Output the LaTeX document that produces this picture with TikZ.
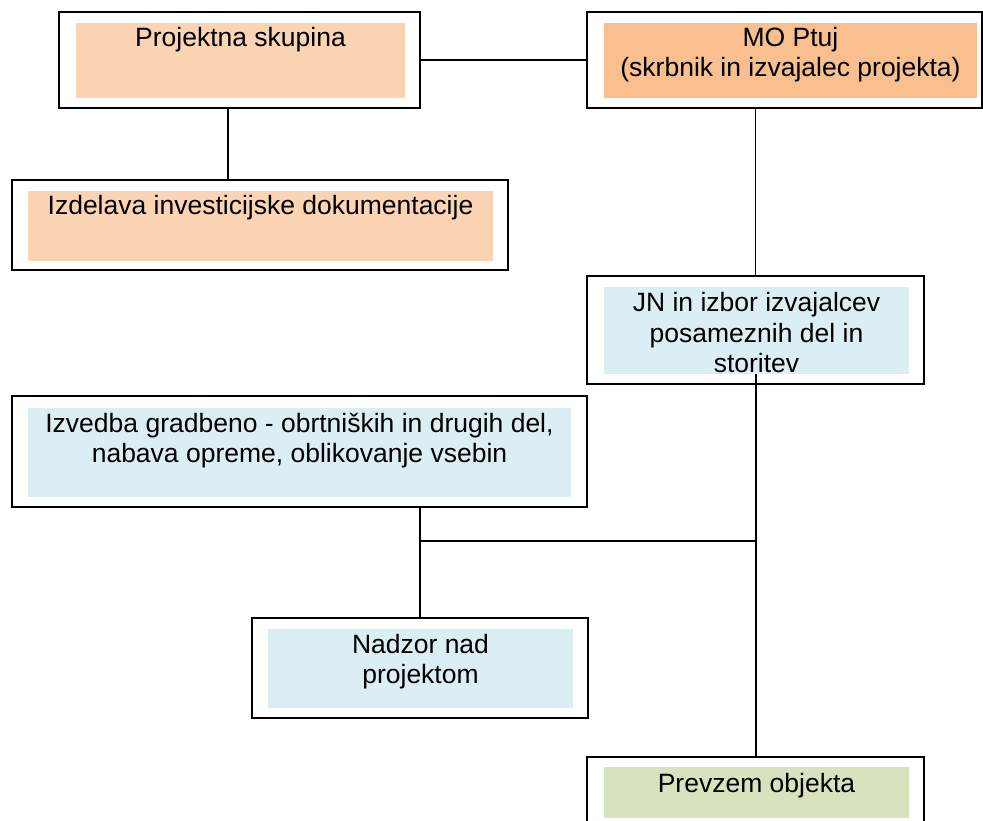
\documentclass[tikz,border=0pt]{standalone}
\usepackage{fontspec}
\setmainfont{Liberation Sans}
\definecolor{peach}{HTML}{FBD4B4}
\definecolor{orangefill}{HTML}{FABF8F}
\definecolor{bluefill}{HTML}{DAEEF3}
\definecolor{greenfill}{HTML}{D6E3BC}
\tikzset{
  outerbox/.style={draw=black, line width=1.8pt, fill=white, inner sep=0pt, outer sep=0pt},
  fillbox/.style={draw=none, inner sep=0pt, outer sep=0pt},
  txt/.style={inner sep=0pt, outer sep=0pt, anchor=base, text=black,
    font=\fontsize{26.5pt}{30pt}\selectfont},
  conn/.style={draw=black, line width=1.4pt}
}
\begin{document}
\begin{tikzpicture}[x=1pt, y=-1pt]
\clip (0,0) rectangle (983,821);
\fill[white] (0,0) rectangle (983,821);
% outer boxes
\node[outerbox, minimum width=361pt, minimum height=96pt] (b1) at (239.5,60) {};
\node[outerbox, minimum width=395pt, minimum height=96pt] (b2) at (784.5,60) {};
\node[outerbox, minimum width=496pt, minimum height=90pt] (b3) at (260,225) {};
\node[outerbox, minimum width=337pt, minimum height=108pt] (b4) at (755.5,330) {};
\node[outerbox, minimum width=575pt, minimum height=111pt] (b5) at (299.5,451.5) {};
\node[outerbox, minimum width=336pt, minimum height=100pt] (b6) at (420,668) {};
\node[outerbox, minimum width=337pt, minimum height=73pt] (b7) at (755.5,793.5) {};
% inner fills
\node[fillbox, fill=peach, minimum width=329pt, minimum height=75pt] (f1) at (240.5,60.5) {};
\node[fillbox, fill=orangefill, minimum width=373pt, minimum height=75pt] (f2) at (790.5,60.5) {};
\node[fillbox, fill=peach, minimum width=465pt, minimum height=70pt] (f3) at (260.5,226) {};
\node[fillbox, fill=bluefill, minimum width=305pt, minimum height=87pt] (f4) at (756.5,330.5) {};
\node[fillbox, fill=bluefill, minimum width=543pt, minimum height=89pt] (f5) at (299.5,452.5) {};
\node[fillbox, fill=bluefill, minimum width=305pt, minimum height=79pt] (f6) at (420.5,668.5) {};
\node[fillbox, fill=greenfill, minimum width=305pt, minimum height=51pt] (f7) at (756.5,792.5) {};
% connectors
\coordinate (x1) at (228,0);
\coordinate (j) at (756,541);
\draw[conn] (b1.east) -- (b2.west);
\draw[conn] (b1.south -| x1) -- (b3.north -| x1);
\draw[conn] (b2.south -| b4.north) -- (b4.north);
\draw[conn] (f4.south -| j) -- (b7.north -| j);
\draw[conn] (b6.north |- b5.south) -- (b6.north);
\draw[conn] (j -| b6.north) -- (j);
% texts
\node[txt] (t1) at (240.5,47) {Projektna skupina};
\node[txt] (t2a) at (790.5,47) {MO Ptuj};
\node[txt] (t2b) at (790.5,77) {(skrbnik in izvajalec projekta)};
\node[txt] (t3) at (260.5,215) {Izdelava investicijske dokumentacije};
\node[txt] (t4a) at (756.5,312) {JN in izbor izvajalcev};
\node[txt] (t4b) at (756.5,342) {posameznih del in};
\node[txt] (t4c) at (756.5,372) {storitev};
\node[txt] (t5a) at (299.5,432) {Izvedba gradbeno - obrtniških in drugih del,};
\node[txt] (t5b) at (299.5,462) {nabava opreme, oblikovanje vsebin};
\node[txt] (t6a) at (420.5,653) {Nadzor nad};
\node[txt] (t6b) at (420.5,683) {projektom};
\node[txt] (t7) at (756.5,792) {Prevzem objekta};
\end{tikzpicture}
\end{document}
